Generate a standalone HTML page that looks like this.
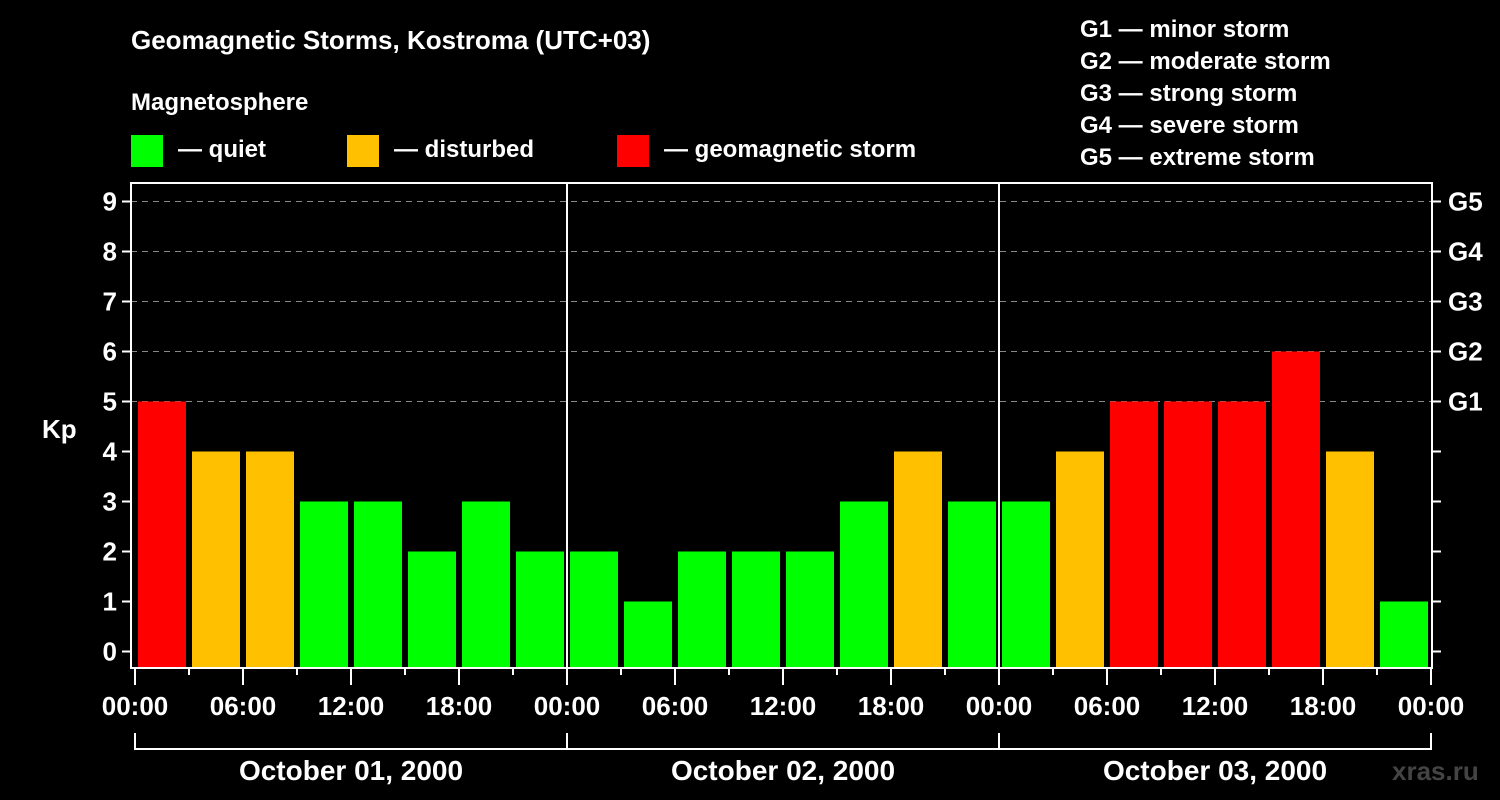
<!DOCTYPE html>
<html><head><meta charset="utf-8"><style>
body{margin:0;background:#000;}
svg{display:block;font-family:"Liberation Sans",sans-serif;font-weight:bold;}
</style></head><body>
<svg id="chart" width="1500" height="800" viewBox="0 0 1500 800">
<rect width="1500" height="800" fill="#000"/>
<text x="131" y="49" fill="#fff" font-size="26">Geomagnetic Storms, Kostroma (UTC+03)</text>
<text x="131" y="110" fill="#fff" font-size="24">Magnetosphere</text>
<g><rect x="131" y="135" width="32" height="32" fill="#00ff00"/><text x="178" y="157" fill="#fff" font-size="24">— quiet</text></g>
<g><rect x="347" y="135" width="32" height="32" fill="#ffc000"/><text x="394" y="157" fill="#fff" font-size="24">— disturbed</text></g>
<g><rect x="617" y="135" width="32" height="32" fill="#ff0000"/><text x="664" y="157" fill="#fff" font-size="24">— geomagnetic storm</text></g>
<g fill="#fff" font-size="24">
<text x="1080" y="37">G1 — minor storm</text>
<text x="1080" y="69">G2 — moderate storm</text>
<text x="1080" y="101">G3 — strong storm</text>
<text x="1080" y="133">G4 — severe storm</text>
<text x="1080" y="165">G5 — extreme storm</text>
</g>
<text x="42" y="438" fill="#fff" font-size="26">Kp</text>
<text x="1392" y="780" fill="#444" font-size="26">xras.ru</text>
<g id="grid"></g><g id="bars"></g><g id="axes"></g>
</svg>
<script>
const kpValues=[5,4,4,3,3,2,3,2, 2,1,2,2,2,3,4,3, 3,4,5,5,5,6,4,1];
const dayLabels=["October 01, 2000","October 02, 2000","October 03, 2000"];
const hourLabels=["00:00","06:00","12:00","18:00"];
const gLabels=["G1","G2","G3","G4","G5"];
const NS="http://www.w3.org/2000/svg";
const X0=135,DAY=432,Y0=651.5,UNIT=50,PT=183,PB=668,PL=131,PR=1432;
const x=h=>X0+h*DAY/24;
const y=k=>Y0-k*UNIT;
function mk(t,a,p){const e=document.createElementNS(NS,t);for(const k in a)e.setAttribute(k,a[k]);p.appendChild(e);return e;}
const grid=document.getElementById('grid'),bars=document.getElementById('bars'),axes=document.getElementById('axes');
for(let k=5;k<=9;k++){const l=mk('line',{x1:PL,x2:PR,y1:y(k),y2:y(k),stroke:'#888','stroke-dasharray':'6,5','stroke-width':1},grid);

}
const col=k=>k>=5?'#ff0000':(k==4?'#ffc000':'#00ff00');
kpValues.forEach((k,i)=>{const r=mk('rect',{x:x(i*3)+3,y:y(k),width:DAY/8-6,height:PB-y(k),fill:col(k)},bars);

});
mk('rect',{x:PL,y:PT,width:PR-PL,height:PB-PT,fill:'none',stroke:'#fff','stroke-width':2},axes);
for(let d=1;d<3;d++){mk('line',{x1:x(d*24),x2:x(d*24),y1:PT,y2:PB,stroke:'#fff','stroke-width':2},axes);}
for(let k=0;k<=9;k++){
mk('line',{x1:PL-9,x2:PL,y1:y(k),y2:y(k),stroke:'#fff','stroke-width':2},axes);
mk('line',{x1:PR,x2:PR+9,y1:y(k),y2:y(k),stroke:'#fff','stroke-width':2},axes);
const t=mk('text',{x:PL-14,y:y(k)+9,fill:'#fff','font-size':26,'text-anchor':'end'},axes);t.textContent=k;

}
gLabels.forEach((g,i)=>{const t=mk('text',{x:PR+16,y:y(5+i)+9,fill:'#fff','font-size':26},axes);t.textContent=g;

});
for(let h=0;h<=72;h+=3){const long=h%6==0;
mk('line',{x1:x(h),x2:x(h),y1:PB,y2:PB+(long?17:7),stroke:'#fff','stroke-width':2},axes);
if(long){const t=mk('text',{x:x(h),y:715,fill:'#fff','font-size':26,'text-anchor':'middle'},axes);t.textContent=hourLabels[(h/6)%4];

}}
mk('path',{d:`M${x(0)} 733V749H${x(72)}V733M${x(24)} 733V749M${x(48)} 733V749`,stroke:'#fff','stroke-width':2,fill:'none'},axes);
dayLabels.forEach((d,i)=>{const t=mk('text',{x:x(i*24+12),y:780,fill:'#fff','font-size':28,'text-anchor':'middle'},axes);t.textContent=d;

});
</script>
</body></html>
